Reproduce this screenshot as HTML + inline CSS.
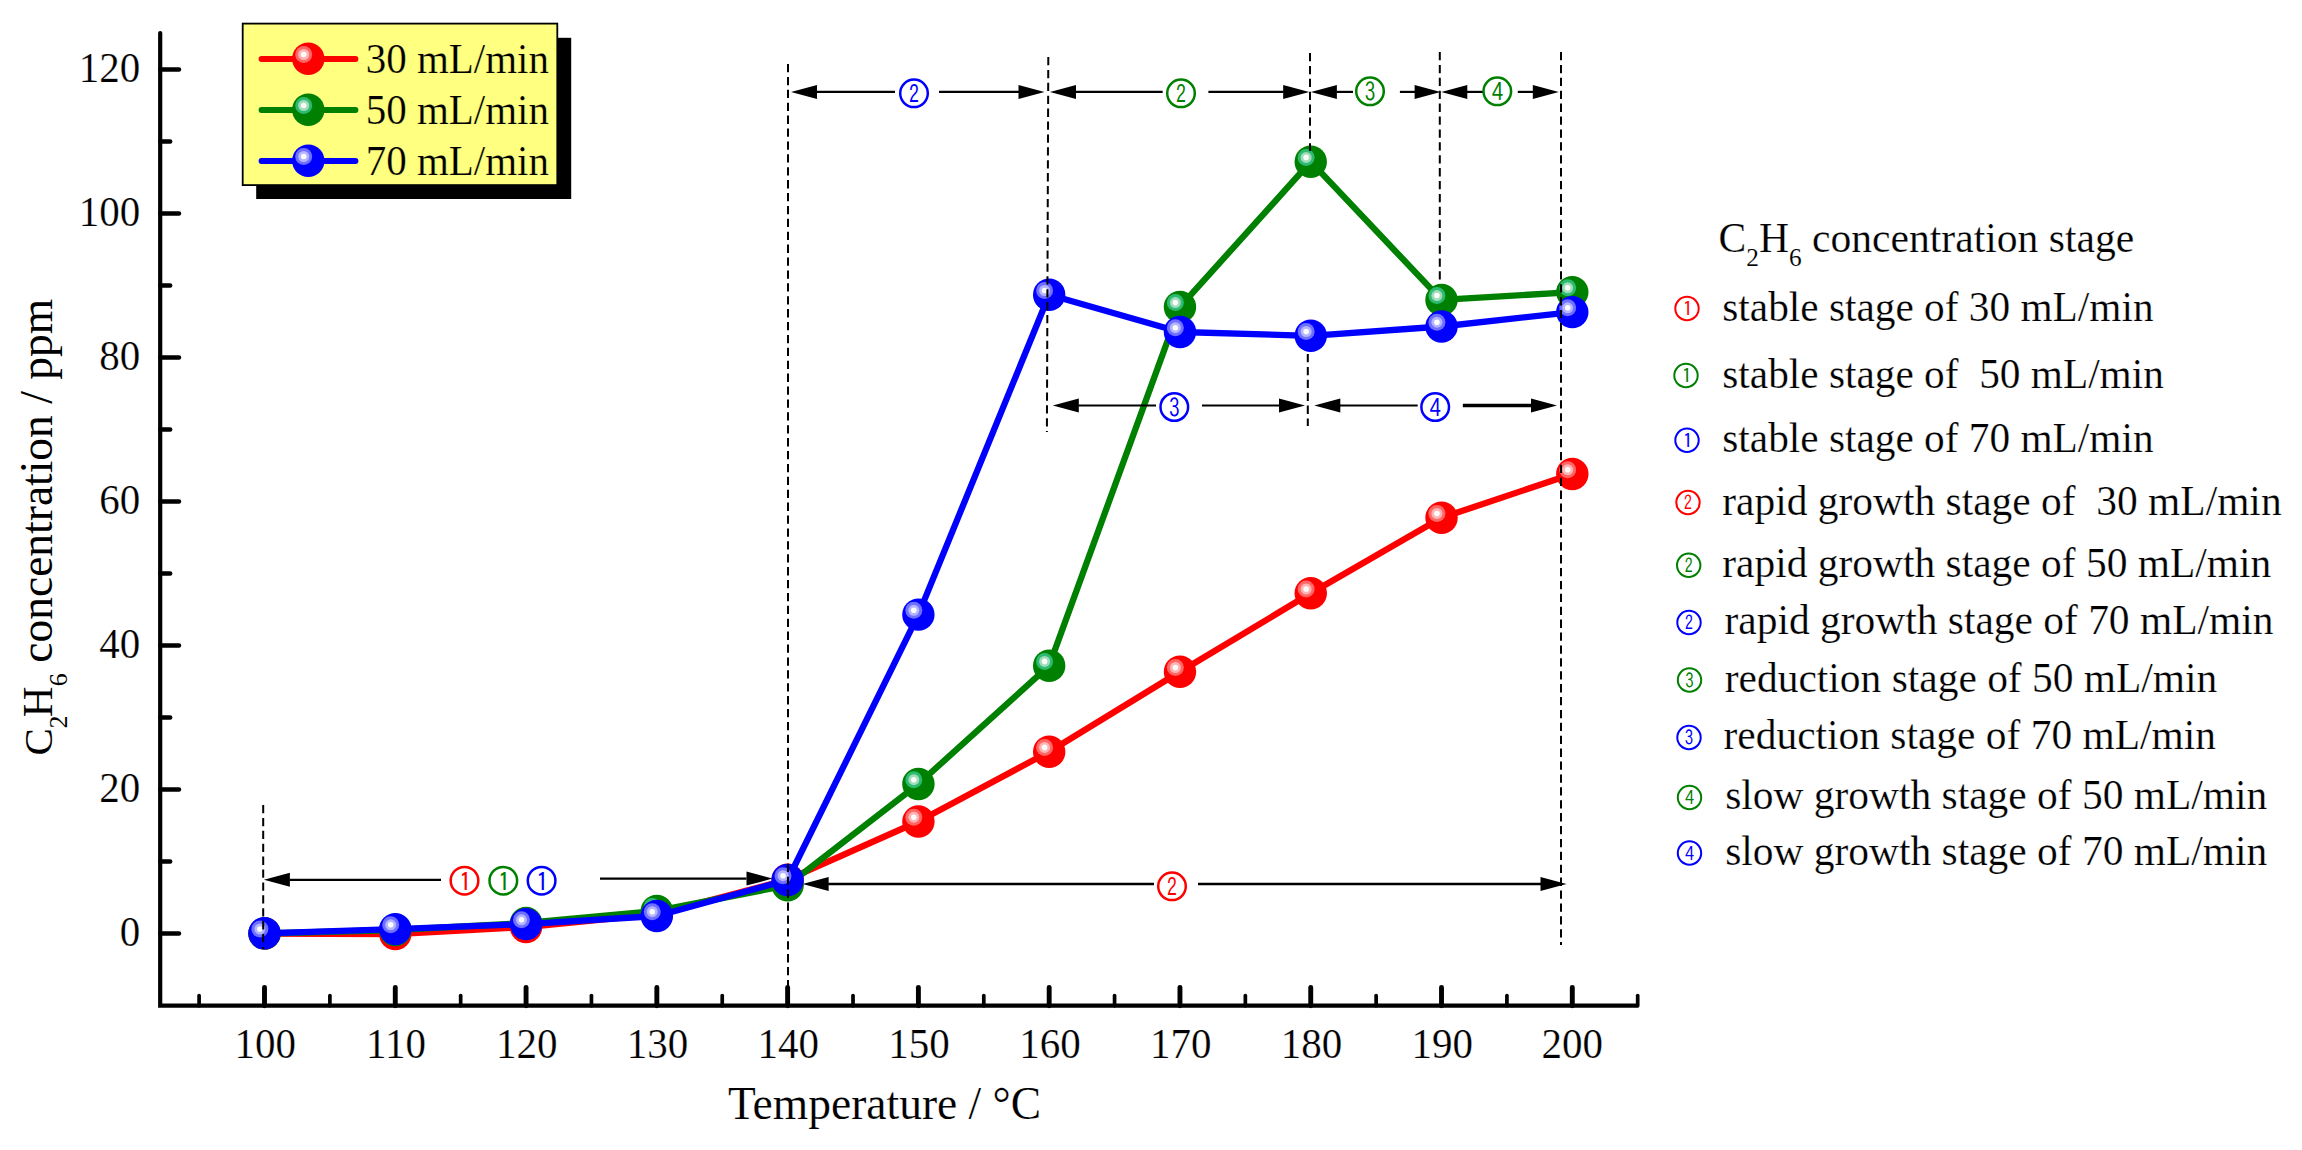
<!DOCTYPE html>
<html lang="en"><head><meta charset="utf-8"><title>C2H6 concentration vs temperature</title>
<style>html,body{margin:0;padding:0;background:#fff;}body{width:2302px;height:1150px;overflow:hidden;}svg{display:block;}text{white-space:pre;}</style>
</head><body>
<svg width="2302" height="1150" viewBox="0 0 2302 1150">
<defs>
<g id="mr"><circle r="16.2" fill="#ff0000"/><circle cx="-4.6" cy="-4.3" r="8.5" fill="#ff6666"/><circle cx="-4.6" cy="-4.3" r="5.5" fill="#ffb4b4"/><circle cx="-4.6" cy="-4.3" r="2.8" fill="#fbfdfb"/></g>
<g id="mg"><circle r="16.2" fill="#008000"/><circle cx="-4.6" cy="-4.3" r="8.5" fill="#2dbb72"/><circle cx="-4.6" cy="-4.3" r="5.5" fill="#a2dcb9"/><circle cx="-4.6" cy="-4.3" r="2.8" fill="#fbfdfb"/></g>
<g id="mb"><circle r="16.2" fill="#0000ff"/><circle cx="-4.6" cy="-4.3" r="8.5" fill="#7070ff"/><circle cx="-4.6" cy="-4.3" r="5.5" fill="#b4b4ff"/><circle cx="-4.6" cy="-4.3" r="2.8" fill="#fbfdfb"/></g>
<path id="ah" d="M0 0 L26 -7 L26 7 Z" fill="#000"/>
</defs>
<rect width="2302" height="1150" fill="#ffffff"/>
<g stroke="#000" stroke-linecap="round" fill="none">
<path d="M160.2 33 V1005.7 H1637" stroke-width="4.2" stroke-linejoin="miter"/>
<g stroke-width="4.4">
<path d="M160.2 933.5 H179"/>
<path d="M160.2 789.5 H179"/>
<path d="M160.2 645.5 H179"/>
<path d="M160.2 501.5 H179"/>
<path d="M160.2 357.5 H179"/>
<path d="M160.2 213.5 H179"/>
<path d="M160.2 69.5 H179"/>
<path d="M160.2 861.5 H170.2"/>
<path d="M160.2 717.5 H170.2"/>
<path d="M160.2 573.5 H170.2"/>
<path d="M160.2 429.5 H170.2"/>
<path d="M160.2 285.5 H170.2"/>
<path d="M160.2 141.5 H170.2"/>
</g><g stroke-width="4.9">
<path d="M264.5 1005.7 V987.5"/>
<path d="M395.28 1005.7 V987.5"/>
<path d="M526.06 1005.7 V987.5"/>
<path d="M656.84 1005.7 V987.5"/>
<path d="M787.62 1005.7 V987.5"/>
<path d="M918.4 1005.7 V987.5"/>
<path d="M1049.18 1005.7 V987.5"/>
<path d="M1179.96 1005.7 V987.5"/>
<path d="M1310.74 1005.7 V987.5"/>
<path d="M1441.52 1005.7 V987.5"/>
<path d="M1572.3 1005.7 V987.5"/>
</g><g stroke-width="3.7">
<path d="M199.11 1005.7 V995.6"/>
<path d="M329.89 1005.7 V995.6"/>
<path d="M460.67 1005.7 V995.6"/>
<path d="M591.45 1005.7 V995.6"/>
<path d="M722.23 1005.7 V995.6"/>
<path d="M853.01 1005.7 V995.6"/>
<path d="M983.79 1005.7 V995.6"/>
<path d="M1114.57 1005.7 V995.6"/>
<path d="M1245.35 1005.7 V995.6"/>
<path d="M1376.13 1005.7 V995.6"/>
<path d="M1506.91 1005.7 V995.6"/>
<path d="M1637.69 1005.7 V995.6"/>
</g></g>
<g font-family="'Liberation Serif', serif" stroke="#ffffff" stroke-width="0.22" font-size="42.7" fill="#000">
<text transform="translate(140.3 945.8) scale(0.96 1)" text-anchor="end">0</text>
<text transform="translate(140.3 801.8) scale(0.96 1)" text-anchor="end">20</text>
<text transform="translate(140.3 657.8) scale(0.96 1)" text-anchor="end">40</text>
<text transform="translate(140.3 513.8) scale(0.96 1)" text-anchor="end">60</text>
<text transform="translate(140.3 369.8) scale(0.96 1)" text-anchor="end">80</text>
<text transform="translate(140.3 225.8) scale(0.96 1)" text-anchor="end">100</text>
<text transform="translate(140.3 81.8) scale(0.96 1)" text-anchor="end">120</text>
<text transform="translate(265.2 1058.2) scale(0.96 1)" text-anchor="middle">100</text>
<text transform="translate(395.98 1058.2) scale(0.96 1)" text-anchor="middle">110</text>
<text transform="translate(526.76 1058.2) scale(0.96 1)" text-anchor="middle">120</text>
<text transform="translate(657.54 1058.2) scale(0.96 1)" text-anchor="middle">130</text>
<text transform="translate(788.32 1058.2) scale(0.96 1)" text-anchor="middle">140</text>
<text transform="translate(919.1 1058.2) scale(0.96 1)" text-anchor="middle">150</text>
<text transform="translate(1049.88 1058.2) scale(0.96 1)" text-anchor="middle">160</text>
<text transform="translate(1180.66 1058.2) scale(0.96 1)" text-anchor="middle">170</text>
<text transform="translate(1311.44 1058.2) scale(0.96 1)" text-anchor="middle">180</text>
<text transform="translate(1442.22 1058.2) scale(0.96 1)" text-anchor="middle">190</text>
<text transform="translate(1572.3 1058.2) scale(0.96 1)" text-anchor="middle">200</text>
</g>
<text x="728" y="1119" font-family="'Liberation Serif', serif" stroke="#ffffff" stroke-width="0.15" font-size="45.5" fill="#000">Temperature / °C</text>
<text transform="translate(51.5 755) rotate(-90)" font-family="'Liberation Serif', serif" font-size="42.5" fill="#000"><tspan x="-0.58" y="0" font-size="41">C</tspan><tspan x="26.46" y="15.4" font-size="26">2</tspan><tspan x="37.68" y="0">H</tspan><tspan x="68.68" y="15.4" font-size="26">6</tspan><tspan x="80.9" y="0.5" font-size="45.5"> concentration / ppm</tspan></text>
<polyline points="264.5,933.5 395.28,934.1 526.06,927.1 656.84,914.2 787.62,879.7 918.4,821.5 1049.18,751.7 1179.96,671.8 1310.74,593.3 1441.52,517.8 1572.3,474" fill="none" stroke="#ff0000" stroke-width="6.3" stroke-linejoin="round"/>
<use href="#mr" x="264.5" y="933.5"/>
<use href="#mr" x="395.28" y="934.1"/>
<use href="#mr" x="526.06" y="927.1"/>
<use href="#mr" x="656.84" y="914.2"/>
<use href="#mr" x="787.62" y="879.7"/>
<use href="#mr" x="918.4" y="821.5"/>
<use href="#mr" x="1049.18" y="751.7"/>
<use href="#mr" x="1179.96" y="671.8"/>
<use href="#mr" x="1310.74" y="593.3"/>
<use href="#mr" x="1441.52" y="517.8"/>
<use href="#mr" x="1572.3" y="474"/>
<polyline points="264.5,933.5 395.28,930 526.06,923 656.84,910.9 787.62,885.3 918.4,784 1049.18,665.7 1179.96,306.9 1310.74,161.7 1441.52,299.9 1572.3,292.1" fill="none" stroke="#008000" stroke-width="6.3" stroke-linejoin="round"/>
<use href="#mg" x="264.5" y="933.5"/>
<use href="#mg" x="395.28" y="930"/>
<use href="#mg" x="526.06" y="923"/>
<use href="#mg" x="656.84" y="910.9"/>
<use href="#mg" x="787.62" y="885.3"/>
<use href="#mg" x="918.4" y="784"/>
<use href="#mg" x="1049.18" y="665.7"/>
<use href="#mg" x="1179.96" y="306.9"/>
<use href="#mg" x="1310.74" y="161.7"/>
<use href="#mg" x="1441.52" y="299.9"/>
<use href="#mg" x="1572.3" y="292.1"/>
<polyline points="264.5,933.3 395.28,929.1 526.06,924.1 656.84,916 787.62,880 918.4,614.6 1049.18,294.8 1179.96,332 1310.74,335.8 1441.52,326.5 1572.3,312.1" fill="none" stroke="#0000ff" stroke-width="6.3" stroke-linejoin="round"/>
<use href="#mb" x="264.5" y="933.3"/>
<use href="#mb" x="395.28" y="929.1"/>
<use href="#mb" x="526.06" y="924.1"/>
<use href="#mb" x="656.84" y="916"/>
<use href="#mb" x="787.62" y="880"/>
<use href="#mb" x="918.4" y="614.6"/>
<use href="#mb" x="1049.18" y="294.8"/>
<use href="#mb" x="1179.96" y="332"/>
<use href="#mb" x="1310.74" y="335.8"/>
<use href="#mb" x="1441.52" y="326.5"/>
<use href="#mb" x="1572.3" y="312.1"/>
<g stroke="#000" stroke-width="2" stroke-dasharray="8.3 4.6" fill="none">
<path d="M263.2 805 L263.2 949"/>
<path d="M788 64 L788 1004"/>
<path d="M1048.3 57 L1046.9 432"/>
<path d="M1310 53 L1310 151"/>
<path d="M1307.8 354 L1307.8 426"/>
<path d="M1439.8 52 L1439.8 281"/>
<path d="M1561 52 L1561 945"/>
</g>
<path d="M816.5 91.9 H895" stroke="#000" stroke-width="2.2" fill="none"/>
<path d="M939 91.9 H1019" stroke="#000" stroke-width="2.2" fill="none"/>
<use href="#ah" x="791" y="91.9"/>
<use href="#ah" transform="translate(1044.5 91.9) scale(-1 1)"/>
<circle cx="914" cy="93.3" r="13.8" fill="none" stroke="#0000ff" stroke-width="2.5"/>
<text transform="translate(914 103.38) scale(0.78 1)" text-anchor="middle" font-family="IPAGothic, 'Liberation Sans', sans-serif" font-size="25.5" fill="#0000ff">2</text>
<path d="M1075.5 91.9 H1162.7" stroke="#000" stroke-width="2.2" fill="none"/>
<path d="M1208.4 91.9 H1283.7" stroke="#000" stroke-width="2.2" fill="none"/>
<use href="#ah" x="1050" y="91.9"/>
<use href="#ah" transform="translate(1309.2 91.9) scale(-1 1)"/>
<circle cx="1181" cy="93.3" r="13.8" fill="none" stroke="#008000" stroke-width="2.5"/>
<text transform="translate(1181 103.38) scale(0.78 1)" text-anchor="middle" font-family="IPAGothic, 'Liberation Sans', sans-serif" font-size="25.5" fill="#008000">2</text>
<path d="M1336.4 91.9 H1353" stroke="#000" stroke-width="2.2" fill="none"/>
<path d="M1399.9 91.9 H1415.1" stroke="#000" stroke-width="2.2" fill="none"/>
<use href="#ah" x="1310.9" y="91.9"/>
<use href="#ah" transform="translate(1440.6 91.9) scale(-1 1)"/>
<circle cx="1370" cy="91.3" r="13.8" fill="none" stroke="#008000" stroke-width="2.5"/>
<text transform="translate(1370 101.38) scale(0.83 1)" text-anchor="middle" font-family="IPAGothic, 'Liberation Sans', sans-serif" font-size="25.5" fill="#008000">3</text>
<path d="M1466.8 91.9 H1483" stroke="#000" stroke-width="2.2" fill="none"/>
<path d="M1517.8 91.9 H1533.3" stroke="#000" stroke-width="2.2" fill="none"/>
<use href="#ah" x="1441.3" y="91.9"/>
<use href="#ah" transform="translate(1558.8 91.9) scale(-1 1)"/>
<circle cx="1497.3" cy="91.3" r="13.8" fill="none" stroke="#008000" stroke-width="2.5"/>
<text transform="translate(1497.3 101.38) scale(0.89 1)" text-anchor="middle" font-family="IPAGothic, 'Liberation Sans', sans-serif" font-size="25.5" fill="#008000">4</text>
<path d="M1078.3 405.5 H1156" stroke="#000" stroke-width="2.2" fill="none"/>
<path d="M1202 405.5 H1279.5" stroke="#000" stroke-width="2.2" fill="none"/>
<use href="#ah" x="1052.8" y="405.5"/>
<use href="#ah" transform="translate(1305 405.5) scale(-1 1)"/>
<circle cx="1174.3" cy="407" r="13.8" fill="none" stroke="#0000ff" stroke-width="2.5"/>
<text transform="translate(1174.3 417.08) scale(0.83 1)" text-anchor="middle" font-family="IPAGothic, 'Liberation Sans', sans-serif" font-size="25.5" fill="#0000ff">3</text>
<path d="M1339.8 405.5 H1417.7" stroke="#000" stroke-width="2.2" fill="none"/>
<path d="M1462.9 405.5 H1531.5" stroke="#000" stroke-width="2.2" fill="none"/>
<use href="#ah" x="1314.3" y="405.5"/>
<use href="#ah" transform="translate(1557 405.5) scale(-1 1)"/>
<path d="M1462.9 405.5 H1532" stroke="#000" stroke-width="3.4" fill="none"/>
<circle cx="1435.2" cy="407" r="13.8" fill="none" stroke="#0000ff" stroke-width="2.5"/>
<text transform="translate(1435.2 417.08) scale(0.89 1)" text-anchor="middle" font-family="IPAGothic, 'Liberation Sans', sans-serif" font-size="25.5" fill="#0000ff">4</text>
<path d="M289.5 879.8 H441" stroke="#000" stroke-width="2.2" fill="none"/>
<use href="#ah" x="263.9" y="879.8"/>
<path d="M600 878.6 H746.5" stroke="#000" stroke-width="2.2" fill="none"/>
<use href="#ah" transform="translate(772.5 878.6) scale(-1 1)"/>
<circle cx="464.5" cy="880.7" r="13.8" fill="none" stroke="#ff0000" stroke-width="2.5"/>
<text transform="translate(465.39 890.78) scale(1.0 1)" text-anchor="middle" font-family="IPAGothic, 'Liberation Sans', sans-serif" font-size="25.5" fill="#ff0000">1</text>
<circle cx="503.3" cy="880.7" r="13.8" fill="none" stroke="#008000" stroke-width="2.5"/>
<text transform="translate(504.19 890.78) scale(1.0 1)" text-anchor="middle" font-family="IPAGothic, 'Liberation Sans', sans-serif" font-size="25.5" fill="#008000">1</text>
<circle cx="541.6" cy="880.7" r="13.8" fill="none" stroke="#0000ff" stroke-width="2.5"/>
<text transform="translate(542.49 890.78) scale(1.0 1)" text-anchor="middle" font-family="IPAGothic, 'Liberation Sans', sans-serif" font-size="25.5" fill="#0000ff">1</text>
<path d="M828.1 884 H1154" stroke="#000" stroke-width="2.6" fill="none"/>
<path d="M1198 884 H1541" stroke="#000" stroke-width="2.6" fill="none"/>
<use href="#ah" x="802.6" y="884"/>
<use href="#ah" transform="translate(1566.5 884) scale(-1 1)"/>
<circle cx="1172" cy="886.3" r="13.8" fill="none" stroke="#ff0000" stroke-width="2.5"/>
<text transform="translate(1172 896.38) scale(0.78 1)" text-anchor="middle" font-family="IPAGothic, 'Liberation Sans', sans-serif" font-size="25.5" fill="#ff0000">2</text>
<rect x="256.2" y="37.8" width="315" height="161.2" fill="#000"/>
<rect x="242.7" y="23.6" width="314.6" height="161.5" fill="#ffff80" stroke="#000" stroke-width="1.8"/>
<path d="M261.5 59 H355.5" stroke="#ff0000" stroke-width="5.8" stroke-linecap="round" fill="none"/>
<use href="#mr" x="308.3" y="58.8"/>
<text transform="translate(365.7 72.6) scale(0.96 1)" font-family="'Liberation Serif', serif" stroke="#ffff80" stroke-width="0.22" font-size="42.7" fill="#000">30 mL/min</text>
<path d="M261.5 110 H355.5" stroke="#008000" stroke-width="5.8" stroke-linecap="round" fill="none"/>
<use href="#mg" x="308.3" y="109.8"/>
<text transform="translate(365.7 123.9) scale(0.96 1)" font-family="'Liberation Serif', serif" stroke="#ffff80" stroke-width="0.22" font-size="42.7" fill="#000">50 mL/min</text>
<path d="M261.5 161 H355.5" stroke="#0000ff" stroke-width="5.8" stroke-linecap="round" fill="none"/>
<use href="#mb" x="308.3" y="160.8"/>
<text transform="translate(365.7 174.9) scale(0.96 1)" font-family="'Liberation Serif', serif" stroke="#ffff80" stroke-width="0.22" font-size="42.7" fill="#000">70 mL/min</text>
<text x="1718.5" y="251.6" font-family="'Liberation Serif', serif" stroke="#ffffff" stroke-width="0.22" font-size="41.6" fill="#000">C<tspan font-size="25.3" dy="13.9" stroke-width="0.1">2</tspan><tspan dy="-13.9">H</tspan><tspan font-size="25.3" dy="13.9" stroke-width="0.1">6</tspan><tspan dy="-13.9"> concentration stage</tspan></text>
<circle cx="1687" cy="308.5" r="11.7" fill="none" stroke="#ff0000" stroke-width="2.0"/>
<text transform="translate(1687.71 316.42) scale(1.0 1)" text-anchor="middle" font-family="IPAGothic, 'Liberation Sans', sans-serif" font-size="20.3" fill="#ff0000">1</text>
<text x="1722.3" y="320.6" font-family="'Liberation Serif', serif" stroke="#ffffff" stroke-width="0.22" font-size="41.3" fill="#000">stable stage of 30 mL/min</text>
<circle cx="1686" cy="375.5" r="11.7" fill="none" stroke="#008000" stroke-width="2.0"/>
<text transform="translate(1686.71 383.42) scale(1.0 1)" text-anchor="middle" font-family="IPAGothic, 'Liberation Sans', sans-serif" font-size="20.3" fill="#008000">1</text>
<text x="1722.3" y="387.6" font-family="'Liberation Serif', serif" stroke="#ffffff" stroke-width="0.22" font-size="41.3" fill="#000">stable stage of  50 mL/min</text>
<circle cx="1687" cy="440.3" r="11.7" fill="none" stroke="#0000ff" stroke-width="2.0"/>
<text transform="translate(1687.71 448.22) scale(1.0 1)" text-anchor="middle" font-family="IPAGothic, 'Liberation Sans', sans-serif" font-size="20.3" fill="#0000ff">1</text>
<text x="1722.3" y="452.3" font-family="'Liberation Serif', serif" stroke="#ffffff" stroke-width="0.22" font-size="41.3" fill="#000">stable stage of 70 mL/min</text>
<circle cx="1688" cy="502.5" r="11.7" fill="none" stroke="#ff0000" stroke-width="2.0"/>
<text transform="translate(1688 510.42) scale(0.78 1)" text-anchor="middle" font-family="IPAGothic, 'Liberation Sans', sans-serif" font-size="20.3" fill="#ff0000">2</text>
<text x="1722.3" y="514.6" font-family="'Liberation Serif', serif" stroke="#ffffff" stroke-width="0.22" font-size="41.45" fill="#000">rapid growth stage of  30 mL/min</text>
<circle cx="1688.7" cy="565.3" r="11.7" fill="none" stroke="#008000" stroke-width="2.0"/>
<text transform="translate(1688.7 573.22) scale(0.78 1)" text-anchor="middle" font-family="IPAGothic, 'Liberation Sans', sans-serif" font-size="20.3" fill="#008000">2</text>
<text x="1722.3" y="576.8" font-family="'Liberation Serif', serif" stroke="#ffffff" stroke-width="0.22" font-size="41.45" fill="#000">rapid growth stage of 50 mL/min</text>
<circle cx="1689" cy="622.5" r="11.7" fill="none" stroke="#0000ff" stroke-width="2.0"/>
<text transform="translate(1689 630.42) scale(0.78 1)" text-anchor="middle" font-family="IPAGothic, 'Liberation Sans', sans-serif" font-size="20.3" fill="#0000ff">2</text>
<text x="1724.5" y="634.3" font-family="'Liberation Serif', serif" stroke="#ffffff" stroke-width="0.22" font-size="41.45" fill="#000">rapid growth stage of 70 mL/min</text>
<circle cx="1689.5" cy="680" r="11.7" fill="none" stroke="#008000" stroke-width="2.0"/>
<text transform="translate(1689.5 687.92) scale(0.83 1)" text-anchor="middle" font-family="IPAGothic, 'Liberation Sans', sans-serif" font-size="20.3" fill="#008000">3</text>
<text x="1724.8" y="691.8" font-family="'Liberation Serif', serif" stroke="#ffffff" stroke-width="0.22" font-size="41.45" fill="#000">reduction stage of 50 mL/min</text>
<circle cx="1689" cy="737.5" r="11.7" fill="none" stroke="#0000ff" stroke-width="2.0"/>
<text transform="translate(1689 745.42) scale(0.83 1)" text-anchor="middle" font-family="IPAGothic, 'Liberation Sans', sans-serif" font-size="20.3" fill="#0000ff">3</text>
<text x="1723.5" y="749" font-family="'Liberation Serif', serif" stroke="#ffffff" stroke-width="0.22" font-size="41.45" fill="#000">reduction stage of 70 mL/min</text>
<circle cx="1689.5" cy="797.5" r="11.7" fill="none" stroke="#008000" stroke-width="2.0"/>
<text transform="translate(1689.5 805.42) scale(0.89 1)" text-anchor="middle" font-family="IPAGothic, 'Liberation Sans', sans-serif" font-size="20.3" fill="#008000">4</text>
<text x="1725.2" y="809.2" font-family="'Liberation Serif', serif" stroke="#ffffff" stroke-width="0.22" font-size="41.45" fill="#000">slow growth stage of 50 mL/min</text>
<circle cx="1689.5" cy="853" r="11.7" fill="none" stroke="#0000ff" stroke-width="2.0"/>
<text transform="translate(1689.5 860.92) scale(0.89 1)" text-anchor="middle" font-family="IPAGothic, 'Liberation Sans', sans-serif" font-size="20.3" fill="#0000ff">4</text>
<text x="1725.2" y="864.7" font-family="'Liberation Serif', serif" stroke="#ffffff" stroke-width="0.22" font-size="41.45" fill="#000">slow growth stage of 70 mL/min</text>
</svg>
</body></html>
